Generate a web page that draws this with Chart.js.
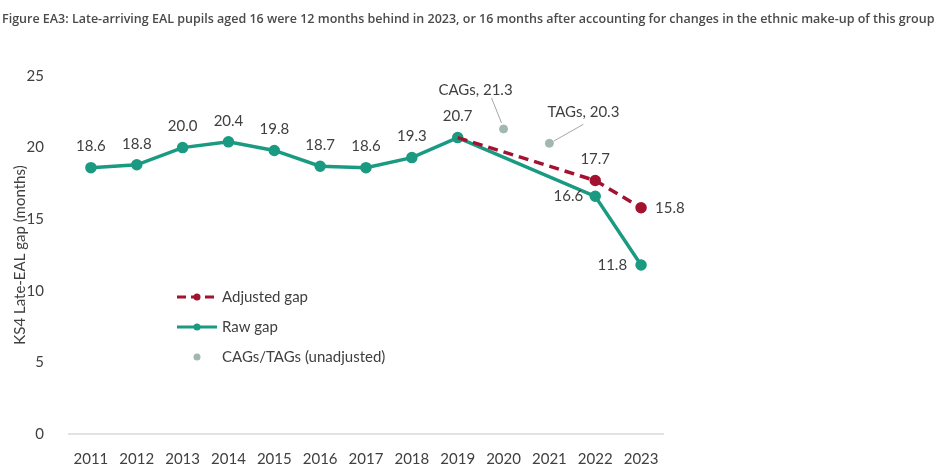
<!DOCTYPE html>
<html>
<head>
<meta charset="utf-8">
<script src="https://cdn.jsdelivr.net/npm/chart.js@4.4.0/dist/chart.umd.min.js"></script>
<style>
  html, body { margin: 0; padding: 0; background: #fff; }
  #wrap { width: 940px; height: 470px; position: relative; }
</style>
</head>
<body>
<div id="wrap"><canvas id="gap-chart"></canvas></div>
<script>
const years = ['2011', '2012', '2013', '2014', '2015', '2016', '2017', '2018', '2019', '2020', '2021', '2022', '2023'];
const rawGap = [18.6, 18.8, 20.0, 20.4, 19.8, 18.7, 18.6, 19.3, 20.7, null, null, 16.6, 11.8];
const adjustedGap = [null, null, null, null, null, null, null, null, 20.7, null, null, 17.7, 15.8];
const gradesGap = [null, null, null, null, null, null, null, null, null, 21.3, 20.3, null, null];
const gradesNames = ['CAGs', 'TAGs'];
const yTicks = [0, 5, 10, 15, 20, 25];

const TITLE = 'Figure EA3: Late-arriving EAL pupils aged 16 were 12 months behind in 2023, or 16 months after accounting for changes in the ethnic make-up of this group';
const FONT = 'Lato, "Noto Sans", sans-serif';
const colors = {
  raw: '#1b9a82',
  adjusted: '#a3122f',
  grades: '#a2b7ae',
  text: '#404040',
  title: '#4a4a4a',
  zero: '#d9d9d9'
};

// where each data label sits relative to its point: [dx, dy, align]
const rawLabelPos = { default: [0, -21, 'center'], 11: [-12, 0, 'right'], 12: [-14, 0, 'right'] };
const adjLabelPos = { default: [0, -21, 'center'], 8: null, 12: [14, 0, 'left'] };

// zero baseline only spans the category band, not the whole grid width
const zeroLinePlugin = {
  id: 'zero-line',
  beforeDatasetsDraw(chart) {
    const { ctx } = chart;
    const x = chart.scales.x;
    const y = chart.scales.y;
    const half = (x.getPixelForValue(1) - x.getPixelForValue(0)) / 2;
    const py = y.getPixelForValue(0);
    ctx.save();
    ctx.strokeStyle = colors.zero;
    ctx.lineWidth = 1.5;
    ctx.beginPath();
    ctx.moveTo(x.getPixelForValue(0) - half, py);
    ctx.lineTo(x.getPixelForValue(years.length - 1) + half, py);
    ctx.stroke();
    ctx.restore();
  }
};

const labelsPlugin = {
  id: 'gap-labels',
  afterDatasetsDraw(chart) {
    const { ctx } = chart;
    ctx.save();
    ctx.font = '15px ' + FONT;
    ctx.fillStyle = colors.text;
    ctx.textBaseline = 'middle';

    const drawSet = (dsIndex, values, posMap) => {
      const meta = chart.getDatasetMeta(dsIndex);
      values.forEach((v, i) => {
        if (v === null) return;
        const pos = i in posMap ? posMap[i] : posMap.default;
        if (!pos) return;
        const pt = meta.data[i];
        ctx.textAlign = pos[2];
        ctx.fillText(v.toFixed(1), pt.x + pos[0], pt.y + pos[1]);
      });
    };
    drawSet(1, rawGap, rawLabelPos);
    drawSet(0, adjustedGap, adjLabelPos);

    // CAG / TAG callouts with leader lines
    const meta = chart.getDatasetMeta(2);
    const callouts = [
      { dx: -28, dy: -39, lx0: -12, ly0: -31, lx1: -2, ly1: -6 },
      { dx: 34, dy: -31, lx0: 34, ly0: -19, lx1: 4, ly1: -2 }
    ];
    let k = 0;
    gradesGap.forEach((v, i) => {
      if (v === null) return;
      const pt = meta.data[i];
      const c = callouts[k];
      ctx.strokeStyle = '#a6a6a6';
      ctx.lineWidth = 1;
      ctx.beginPath();
      ctx.moveTo(pt.x + c.lx0, pt.y + c.ly0);
      ctx.lineTo(pt.x + c.lx1, pt.y + c.ly1);
      ctx.stroke();
      ctx.textAlign = 'center';
      ctx.fillText(gradesNames[k] + ', ' + v.toFixed(1), pt.x + c.dx, pt.y + c.dy);
      k++;
    });
    ctx.restore();
  }
};

const legendPlugin = {
  id: 'inner-legend',
  afterDraw(chart) {
    const { ctx } = chart;
    const x0 = 177, x1 = 217, tx = 222;
    const rows = [297, 327, 357];
    ctx.save();
    ctx.font = '15px ' + FONT;
    ctx.textBaseline = 'middle';
    ctx.textAlign = 'left';

    ctx.strokeStyle = colors.adjusted;
    ctx.lineWidth = 3;
    ctx.setLineDash([9, 5]);
    ctx.beginPath();
    ctx.moveTo(x0, rows[0]);
    ctx.lineTo(x1, rows[0]);
    ctx.stroke();
    ctx.setLineDash([]);
    ctx.fillStyle = colors.adjusted;
    ctx.beginPath();
    ctx.arc((x0 + x1) / 2, rows[0], 3.5, 0, Math.PI * 2);
    ctx.fill();

    ctx.strokeStyle = colors.raw;
    ctx.beginPath();
    ctx.moveTo(x0, rows[1]);
    ctx.lineTo(x1, rows[1]);
    ctx.stroke();
    ctx.fillStyle = colors.raw;
    ctx.beginPath();
    ctx.arc((x0 + x1) / 2, rows[1], 3.5, 0, Math.PI * 2);
    ctx.fill();

    ctx.fillStyle = colors.grades;
    ctx.beginPath();
    ctx.arc((x0 + x1) / 2, rows[2], 3.5, 0, Math.PI * 2);
    ctx.fill();

    ctx.fillStyle = colors.text;
    ctx.fillText('Adjusted gap', tx, rows[0]);
    ctx.fillText('Raw gap', tx, rows[1]);
    ctx.fillText('CAGs/TAGs (unadjusted)', tx, rows[2]);
    ctx.restore();
  }
};

const titlePlugin = {
  id: 'fig-title',
  afterDraw(chart) {
    const { ctx } = chart;
    ctx.save();
    ctx.font = '600 12.5px "Open Sans", sans-serif';
    ctx.fillStyle = colors.title;
    ctx.textBaseline = 'middle';
    ctx.textAlign = 'left';
    ctx.fillText(TITLE, 2, 19);
    ctx.restore();
  }
};

new Chart(document.getElementById('gap-chart'), {
  type: 'line',
  data: {
    labels: years,
    datasets: [
      {
        label: 'Adjusted gap',
        data: adjustedGap,
        borderColor: colors.adjusted,
        backgroundColor: colors.adjusted,
        borderWidth: 3.5,
        borderDash: [10, 6],
        pointRadius: adjustedGap.map((v, i) => (i === 8 ? 0 : 4)),
        spanGaps: true,
        tension: 0
      },
      {
        label: 'Raw gap',
        data: rawGap,
        borderColor: colors.raw,
        backgroundColor: colors.raw,
        borderWidth: 3.5,
        pointRadius: 4,
        spanGaps: true,
        tension: 0
      },
      {
        label: 'CAGs/TAGs (unadjusted)',
        data: gradesGap,
        borderColor: colors.grades,
        backgroundColor: colors.grades,
        showLine: false,
        pointRadius: 4
      }
    ]
  },
  options: {
    responsive: true,
    maintainAspectRatio: false,
    animation: false,
    layout: { padding: { top: 76, right: 276, left: 0, bottom: 0 } },
    plugins: {
      legend: { display: false },
      tooltip: { enabled: false }
    },
    scales: {
      x: {
        offset: true,
        grid: { display: false },
        border: { display: false },
        ticks: { color: colors.text, font: { family: FONT, size: 15 }, padding: 8, maxRotation: 0 },
        afterFit(scale) { scale.height = 36; }
      },
      y: {
        min: 0,
        max: 25,
        afterBuildTicks(scale) { scale.ticks = yTicks.map(v => ({ value: v })); },
        grid: { display: false },
        border: { display: false },
        ticks: { color: colors.text, font: { family: FONT, size: 15 }, padding: 16 },
        title: {
          display: true,
          text: 'KS4 Late-EAL gap (months)',
          color: colors.text,
          font: { family: FONT, size: 15 },
          padding: { top: 11, bottom: 4 }
        },
        afterFit(scale) { scale.width = 68; }
      }
    }
  },
  plugins: [zeroLinePlugin, labelsPlugin, legendPlugin, titlePlugin]
});
</script>
</body>
</html>
